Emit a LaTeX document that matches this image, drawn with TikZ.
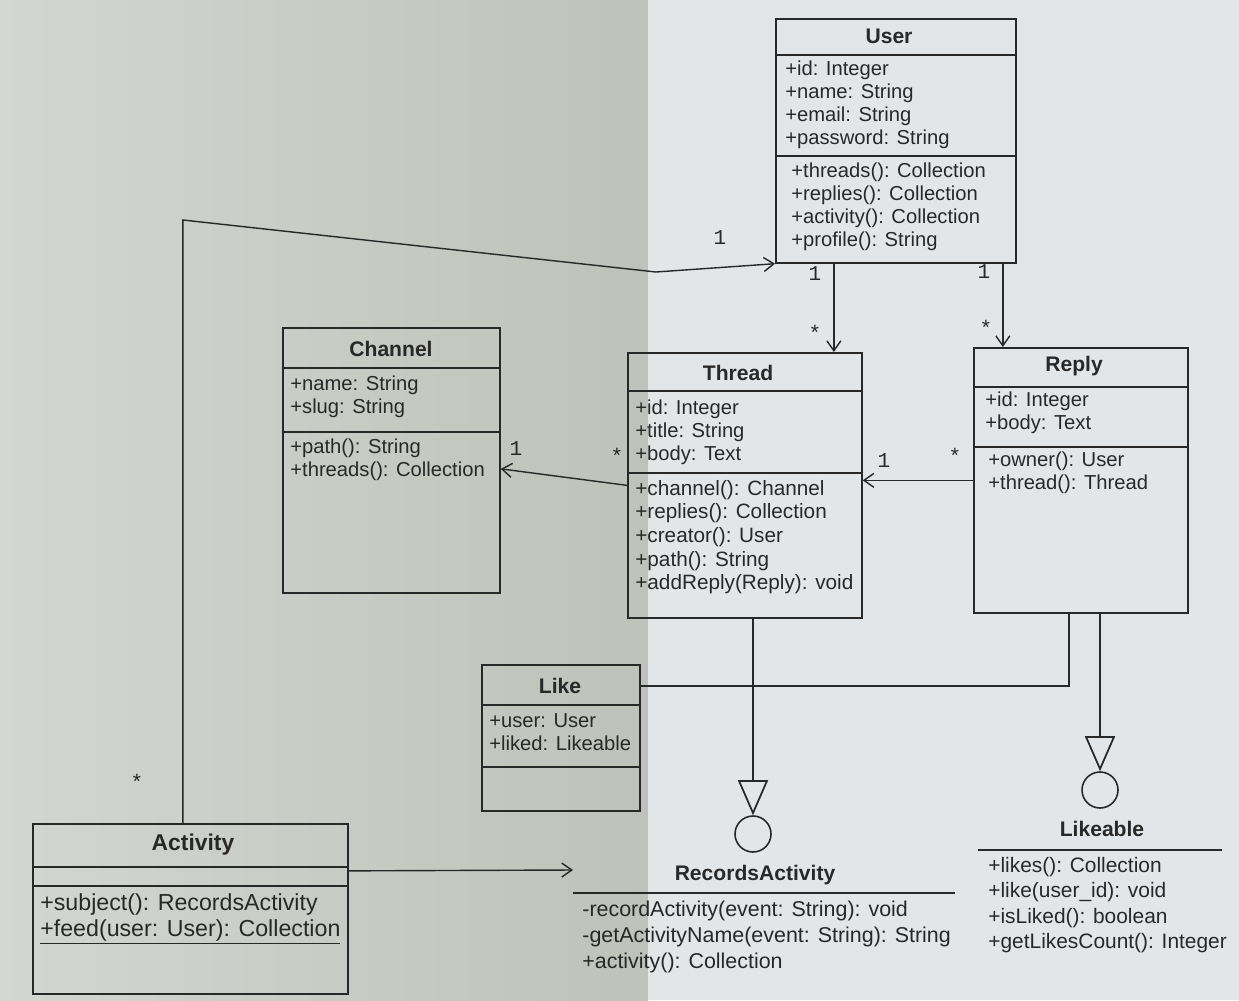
\documentclass[tikz,border=0pt]{standalone}
\usepackage{fontspec}
\setmainfont{Liberation Sans}
\setmonofont{Liberation Mono}
\usetikzlibrary{arrows.meta,calc}
\definecolor{paperleft}{RGB}{211,214,209}
\definecolor{paperfold}{RGB}{190,194,186}
\definecolor{paperright}{RGB}{227,230,233}
\definecolor{ink}{RGB}{40,40,40}
\begin{document}
\begin{tikzpicture}[x=0.02cm,y=-0.02cm,
    umlbox/.style={draw=ink,line width=1pt,anchor=north west,inner sep=0pt},
    umlline/.style={draw=ink,line width=1pt},
    umltitle/.style={text=ink,font=\fontsize{12}{14}\selectfont\bfseries},
    umltext/.style={text=ink,anchor=north west,align=left,inner sep=0pt,
      font=\fontsize{11.5}{13}\selectfont},
    umlbig/.style={umltext,font=\fontsize{12.2}{14.6}\selectfont},
    mult/.style={text=ink,font=\ttfamily\fontsize{12}{12}\selectfont},
    assoc/.style={draw=ink,line width=0.8pt,-{Straight Barb[length=2mm,width=2.8mm]}},
    realize/.style={draw=ink,line width=1.3pt,-{Triangle[open,length=7mm,width=6mm,line width=1pt]}},
    lollipop/.style={draw=ink,line width=0.9pt,circle,inner sep=0pt,minimum size=0.72cm}]
  \useasboundingbox (0,0) rectangle (1239,1000);
  \shade[left color=paperleft,right color=paperfold] (0,0) rectangle (648,1000);
  \fill[paperright] (648,0) rectangle (1239,1000);

  \node[umlbox,minimum width=4.8cm,minimum height=4.88cm] (user) at (775,18) {};
  \node[umlbox,minimum width=4.34cm,minimum height=5.3cm] (channel) at (282,327) {};
  \node[umlbox,minimum width=4.68cm,minimum height=5.3cm] (thread) at (627,352) {};
  \node[umlbox,minimum width=4.28cm,minimum height=5.3cm] (reply) at (973,347) {};
  \node[umlbox,minimum width=3.16cm,minimum height=2.92cm] (like) at (481,664) {};
  \node[umlbox,minimum width=6.3cm,minimum height=3.4cm] (activity) at (32,823) {};
  \foreach \c/\a/\b in {user/37/138,channel/41/105,thread/39/121,reply/40/100,like/41/103,activity/44/63}
    \draw[umlline] ($(\c.north west)+(0,\a)$) -- ($(\c.north east)+(0,\a)$)
      ($(\c.north west)+(0,\b)$) -- ($(\c.north east)+(0,\b)$);

  \node[umltitle] (usertitle) at (889,36) {User};
  \node[umltext] (userattr) at (785,61) {+id: Integer\\+name: String\\+email: String\\+password: String};
  \node[umltext] (usermeth) at (791,163) {+threads(): Collection\\+replies(): Collection\\+activity(): Collection\\+profile(): String};

  \node[umltitle] (channeltitle) at (391,349) {Channel};
  \node[umltext] (channelattr) at (290,376) {+name: String\\+slug: String};
  \node[umltext] (channelmeth) at (290,439) {+path(): String\\+threads(): Collection};

  \node[umltitle] (threadtitle) at (738,373) {Thread};
  \node[umltext] (threadattr) at (635,400) {+id: Integer\\+title: String\\+body: Text};
  \node[umltext,font=\fontsize{11.8}{13.4}\selectfont] (threadmeth) at (635,480) {+channel(): Channel\\+replies(): Collection\\+creator(): User\\+path(): String\\+addReply(Reply): void};

  \node[umltitle] (replytitle) at (1074,366) {Reply};
  \node[umltext] (replyattr) at (985,392) {+id: Integer\\+body: Text};
  \node[umltext] (replymeth) at (988,452) {+owner(): User\\+thread(): Thread};

  \node[umltitle] (liketitle) at (560,686) {Like};
  \node[umltext] (likeattr) at (489,713) {+user: User\\+liked: Likeable};

  \node[umltitle,font=\fontsize{13}{15}\selectfont\bfseries] (activitytitle) at (193,845) {Activity};
  \node[umlbig,font=\fontsize{13.2}{14.8}\selectfont] (activitymeth) at (40,893) {+subject(): RecordsActivity\\\underline{+feed(user: User): Collection}};

  \node[lollipop] (records) at (753,834) {};
  \node[umltitle] (recordstitle) at (755,875) {RecordsActivity};
  \draw[umlline] (573,893) -- (955,893);
  \node[umlbig] (recordsmeth) at (582,901) {-recordActivity(event: String): void\\-getActivityName(event: String): String\\+activity(): Collection};
  \coordinate (recordsleft) at (573,870);

  \node[lollipop] (likeable) at (1100,790) {};
  \node[umltitle] (likeabletitle) at (1102,829) {Likeable};
  \draw[umlline] (978,850) -- (1222,850);
  \node[umlbig,font=\fontsize{11.9}{14.4}\selectfont] (likeablemeth) at (988,857) {+likes(): Collection\\+like(user\_id): void\\+isLiked(): boolean\\+getLikesCount(): Integer};

  \begin{scope}
    \draw[assoc] ([xshift=-0.15cm]activity.north) -- ++(0,-603) -- ++(473,52) -- (user.south west);
    \draw[assoc] ([xshift=-1.24cm]user.south) -- ([xshift=-1.24cm]user.south |- thread.north);
    \draw[assoc] ([xshift=2.14cm]user.south) -- ([xshift=2.14cm]user.south |- reply.north);
    \draw[assoc] (thread.west) -- ([yshift=-0.17cm]channel.east);
    \draw[assoc] (reply.west) -- (reply.west -| thread.east);
    \draw[assoc] ([yshift=0.76cm]activity.east) -- (recordsleft);
    \draw[umlline,line width=0.8pt] ([yshift=1.04cm]like.east) -| ([xshift=-0.24cm]reply.south);
    \draw[realize] (thread.south -| records.north) -- (records.north);
    \draw[realize,line width=0.8pt] (reply.south -| likeable.north) -- (likeable.north);
  \end{scope}

  \node[mult] (m1) at (720,238) {1};
  \node[mult] (m2) at (137,782) {*};
  \node[mult] (m3) at (815,274) {1};
  \node[mult] (m4) at (815,333) {*};
  \node[mult] (m5) at (984,272) {1};
  \node[mult] (m6) at (986,328) {*};
  \node[mult] (m7) at (516,449) {1};
  \node[mult] (m8) at (617,456) {*};
  \node[mult] (m9) at (884,461) {1};
  \node[mult] (m10) at (955,456) {*};
\end{tikzpicture}
\end{document}
